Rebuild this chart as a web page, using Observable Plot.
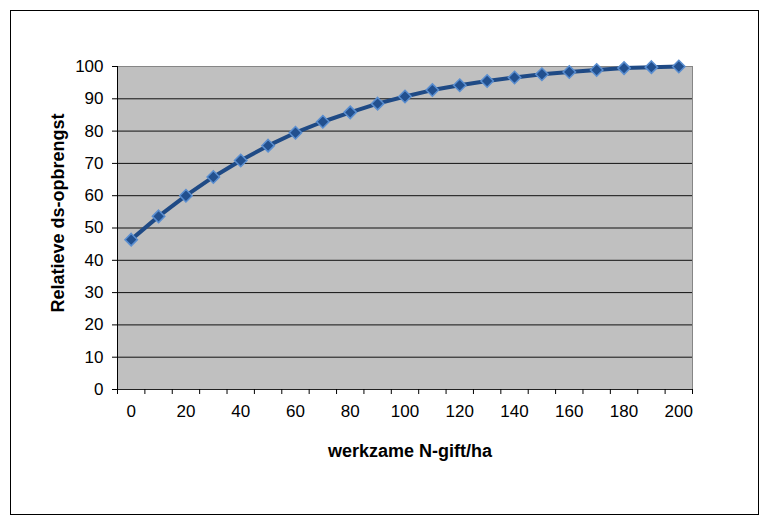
<!DOCTYPE html>
<html>
<head>
<meta charset="utf-8">
<script src="https://cdn.jsdelivr.net/npm/d3@7"></script>
<script src="https://cdn.jsdelivr.net/npm/@observablehq/plot@0.6"></script>
<style>
  html, body { margin: 0; padding: 0; background: #fff; }
  #wrap { position: relative; width: 770px; height: 526px; }
  #border { position: absolute; left: 10px; top: 10px; width: 747px; height: 503px; border: 1px solid #000; box-sizing: content-box; pointer-events: none; }
  #chart { position: absolute; left: 0; top: 0; }
</style>
</head>
<body>
<div id="wrap"><div id="chart"></div><div id="border"></div></div>
<script>
// Categories (werkzame N-gift/ha)
const nGift = [0, 10, 20, 30, 40, 50, 60, 70, 80, 90, 100, 110, 120, 130, 140, 150, 160, 170, 180, 190, 200];
// Relatieve ds-opbrengst
const opbrengst = [46.4, 53.6, 60.0, 65.8, 70.9, 75.5, 79.5, 82.9, 85.8, 88.5, 90.7, 92.7, 94.2, 95.5, 96.6, 97.6, 98.3, 98.9, 99.5, 99.8, 100.0];
// Tick labels
const xLabels = [0, 20, 40, 60, 80, 100, 120, 140, 160, 180, 200];
const xBoundaries = [-5, 5, 15, 25, 35, 45, 55, 65, 75, 85, 95, 105, 115, 125, 135, 145, 155, 165, 175, 185, 195, 205];
const yTicks = [0, 10, 20, 30, 40, 50, 60, 70, 80, 90, 100];

const data = nGift.map((n, i) => ({n, v: opbrengst[i]}));

const chart = Plot.plot({
  width: 770,
  height: 526,
  marginLeft: 117,
  marginRight: 78,
  marginTop: 66,
  marginBottom: 137,
  x: {domain: [-5, 205]},
  y: {domain: [0, 100]},
  style: {fontFamily: "'Liberation Sans', Arial, sans-serif", fontSize: "17px", color: "#000", background: "transparent"},
  marks: [
    Plot.frame({fill: "#c0c0c0", stroke: "#868686"}),
    Plot.ruleY(yTicks.filter(v => v > 0 && v < 100), {stroke: "#111"}),
    Plot.ruleY([0], {stroke: "#222"}),
    Plot.ruleX([-5], {stroke: "#000"}),
    Plot.axisY({ticks: yTicks, tickSize: 5, tickPadding: 9, label: null, tickFormat: d => String(d)}),
    Plot.axisX({ticks: xBoundaries, tickSize: 5, tickFormat: () => "", label: null}),
    Plot.axisX({ticks: xLabels, tickSize: 0, tickPadding: 15, label: null, tickFormat: d => String(d)}),
    Plot.line(data, {x: "n", y: "v", stroke: "#1f4a85", strokeWidth: 4}),
    Plot.dot(data, {x: "n", y: "v", symbol: "diamond2", r: 5.6, fill: "#22508f", stroke: "#5a8ed0", strokeWidth: 1.5}),
    Plot.text(["werkzame N-gift/ha"], {text: d => d, frameAnchor: "bottom", dy: 67, dx: 5, fontWeight: "bold", fontSize: 18}),
    Plot.text(["Relatieve ds-opbrengst"], {text: d => d, frameAnchor: "left", textAnchor: "middle", rotate: -90, dx: -59, dy: -15, fontWeight: "bold", fontSize: 18})
  ]
});
document.getElementById("chart").appendChild(chart);
</script>
</body>
</html>
